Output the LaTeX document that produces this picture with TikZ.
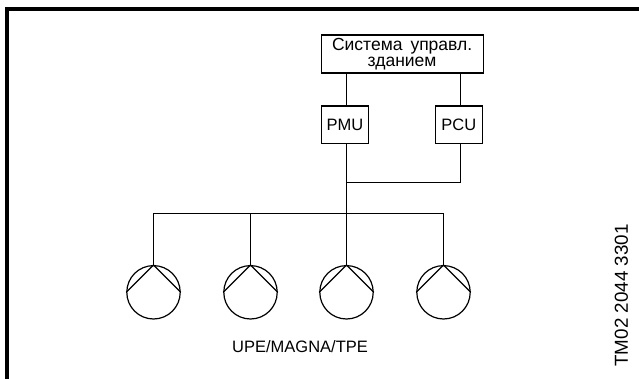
\documentclass[tikz,border=0pt]{standalone}
\usepackage{fontspec}
\setmainfont{Liberation Sans}
\begin{document}
\begin{tikzpicture}[x=1pt,y=-1pt,line cap=butt,
  conn/.style={line width=1.2pt,black},
  unitbox/.style={draw=black,line width=1.2pt,inner sep=0pt,anchor=north west,align=center},
  pump/.style={draw=black,line width=1.2pt,circle,minimum size=53.4pt,inner sep=0pt},
  lbl/.style={inner sep=0pt,font=\fontsize{16.5}{16.5}\selectfont}]
\useasboundingbox (0,0) rectangle (639,379);
\fill[white] (0,0) rectangle (639,379);
\draw[line width=4.4pt,black] (7.2,379) -- (7.2,9) -- (639,9);
\node[unitbox,minimum width=162pt,minimum height=38pt,font=\fontsize{17.5}{15.5}\selectfont] (bms) at (320.5,34.5) {Система\hspace{8pt}управл.\\здание\rlap{м}\phantom{м}};
\node[unitbox,minimum width=47.5pt,minimum height=37.5pt,lbl] (pmu) at (320.5,105.5) {PMU};
\node[unitbox,minimum width=47.5pt,minimum height=37.5pt,lbl] (pcu) at (434.5,105.5) {PCU};
\coordinate (j1) at (346.5,182.5);
\coordinate (j2) at (346.5,213.5);
\coordinate (b1) at (153.5,213.5);
\coordinate (b2) at (250.5,213.5);
\coordinate (b4) at (443.5,213.5);
\coordinate (t1) at (346.5,72.5);
\coordinate (t2) at (460.5,72.5);
\coordinate (m1) at (346.5,105.5);
\coordinate (m2) at (460.5,105.5);
\coordinate (n1) at (346.5,143);
\coordinate (n2) at (460.5,143);
\node[pump] (p1) at (153.5,292.3) {};
\node[pump] (p2) at (250.5,292.3) {};
\node[pump] (p3) at (346.5,292.3) {};
\node[pump] (p4) at (443.5,292.3) {};
\draw[conn] (t1) -- (m1);
\draw[conn] (t2) -- (m2);
\draw[conn] (n1) -- (j1) -- (j2) -- (p3.north);
\draw[conn] (n2) |- (j1);
\draw[conn] (p1.north) -- (b1) -- (b4) -- (p4.north);
\draw[conn] (b2) -- (p2.north);
\foreach \p in {p1,p2,p3,p4}{
  \draw[conn,line join=miter] (\p.west) -- (\p.north) -- (\p.east);
}
\node[lbl] (cap) at (300,346.5) {UPE/MAGNA/TPE};
\node[lbl,font=\fontsize{18.8}{18}\selectfont,rotate=90] (tm) at (621.5,295.5) {TM02 2044 3301};
\end{tikzpicture}
\end{document}
